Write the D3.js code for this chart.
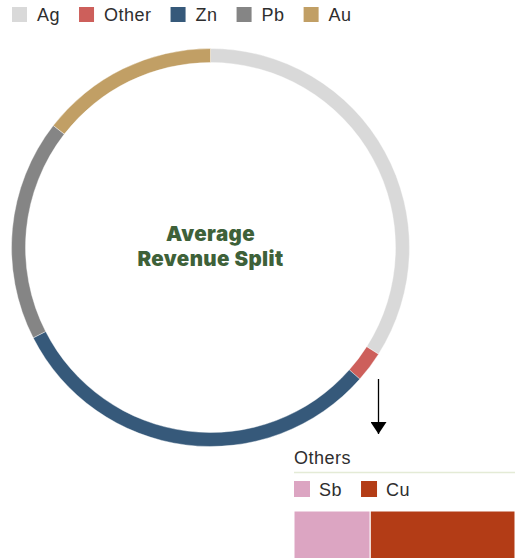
<!DOCTYPE html>
<html>
<head>
<meta charset="utf-8">
<script src="https://cdn.jsdelivr.net/npm/d3@7"></script>
<style>
  html, body { margin: 0; padding: 0; background: #fff; overflow: hidden; }
  svg { display: block; }
</style>
</head>
<body>
<svg id="chart" width="515" height="558"></svg>
<script>
// ---- data ----
const categories = ["Ag", "Other", "Zn", "Pb", "Au"];
const shares = [34, 2.5, 31, 18, 14.5];
const colors = ["#d9d9d9", "#cd5f5b", "#36597a", "#858585", "#c19f65"];

const otherCategories = ["Sb", "Cu"];
const otherShares = [34.5, 65.5];
const otherColors = ["#dca5c2", "#b33c16"];

const centerTitle = ["Average", "Revenue Split"];
const othersTitle = "Others";

// ---- layout ----
const svg = d3.select("#chart");
const font = "'Liberation Sans', Arial, sans-serif";
const fs = 18, ls = 0.5, txtCol = "#2e2e2e";

// Legend
const legend = svg.append("g");
let lx = 12;
categories.forEach((c, i) => {
  legend.append("rect").attr("x", lx).attr("y", 7).attr("width", 15).attr("height", 15).attr("fill", colors[i]);
  const t = legend.append("text").attr("x", lx + 25).attr("y", 21)
    .attr("font-family", font).attr("font-size", fs).attr("letter-spacing", ls)
    .attr("fill", txtCol).text(c);
  lx = lx + 25 + t.node().getComputedTextLength() + 19;
});

// Donut
const cx = 210.5, cy = 247.5, rOuter = 199, rInner = 185;
const pie = d3.pie().sort(null).value(d => d)(shares);
const arc = d3.arc().innerRadius(rInner).outerRadius(rOuter);
const ring = svg.append("g").attr("transform", `translate(${cx},${cy})`);
ring.selectAll("path").data(pie).join("path")
  .attr("d", arc)
  .attr("fill", (d, i) => colors[i])
  .attr("stroke", "#fff").attr("stroke-width", 0.4);

ring.selectAll("text.center").data(centerTitle).join("text")
  .attr("class", "center")
  .attr("text-anchor", "middle")
  .attr("x", 0)
  .attr("y", (d, i) => -6.5 + i * 25)
  .attr("font-family", "Inter, 'DejaVu Sans', sans-serif")
  .attr("font-weight", 900)
  .attr("font-size", 20.5)
  .attr("letter-spacing", 0.4)
  .attr("fill", "#3e6139")
  .text(d => d);

// Arrow
const defs = svg.append("defs");
defs.append("marker").attr("id", "ah").attr("viewBox", "0 0 12 16")
  .attr("refX", 12).attr("refY", 8).attr("markerWidth", 12).attr("markerHeight", 16)
  .attr("markerUnits", "userSpaceOnUse").attr("orient", "auto")
  .append("path").attr("d", "M0,0 L12,8 L0,16 Z").attr("fill", "#000");
svg.append("line").attr("x1", 378.5).attr("x2", 378.5).attr("y1", 379).attr("y2", 434)
  .attr("stroke", "#000").attr("stroke-width", 1.3).attr("marker-end", "url(#ah)");

// Others panel
const px = 294, pw = 221;
svg.append("text").attr("x", px).attr("y", 464).attr("font-family", font)
  .attr("font-size", fs).attr("letter-spacing", ls).attr("fill", txtCol).text(othersTitle);
svg.append("line").attr("x1", px).attr("x2", px + pw).attr("y1", 472.5).attr("y2", 472.5)
  .attr("stroke", "#e4ebd6").attr("stroke-width", 1.5);

let ox = px;
otherCategories.forEach((c, i) => {
  svg.append("rect").attr("x", ox).attr("y", 481).attr("width", 16).attr("height", 16).attr("fill", otherColors[i]);
  const t = svg.append("text").attr("x", ox + 25).attr("y", 496)
    .attr("font-family", font).attr("font-size", fs).attr("letter-spacing", ls)
    .attr("fill", txtCol).text(c);
  ox = ox + 25 + t.node().getComputedTextLength() + 19;
});

const xs = d3.scaleLinear().domain([0, d3.sum(otherShares)]).range([px, px + pw]);
const stack = d3.cumsum(otherShares);
svg.selectAll("rect.bar").data(otherShares).join("rect")
  .attr("class", "bar")
  .attr("x", (d, i) => xs(stack[i] - d))
  .attr("y", 511)
  .attr("width", (d, i) => xs(stack[i]) - xs(stack[i] - d))
  .attr("height", 60)
  .attr("fill", (d, i) => otherColors[i])
  .attr("stroke", "#fff").attr("stroke-width", 1);
</script>
</body>
</html>
